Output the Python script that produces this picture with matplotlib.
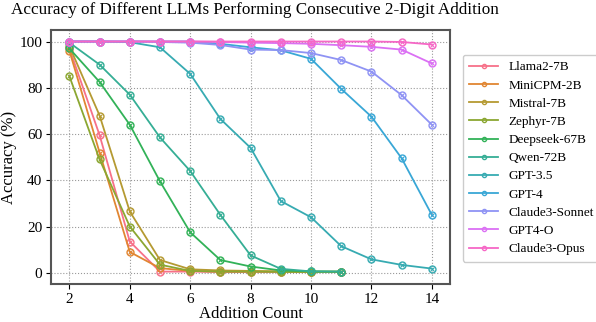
import matplotlib
matplotlib.use("Agg")
import matplotlib.pyplot as plt
import seaborn as sns

plt.rcParams['font.family'] = ['Liberation Serif', 'DejaVu Serif']

steps_short = [2, 3, 4, 5, 6, 7, 8, 9, 10, 11]
steps_long = [2, 3, 4, 5, 6, 7, 8, 9, 10, 11, 12, 13, 14]

llama2_7b = [97, 59.5, 13.5, 0.5, 0.5, 0.3, 0.3, 0.3, 0.3, 0.3]
minicpm_2b = [96, 52, 9, 2, 0.8, 0.5, 0.5, 0.5, 0.3, 0.3]
mistral_7b = [98, 68, 26.5, 5.5, 1.5, 1, 0.8, 0.6, 0.5, 0.5]
zephyr_7b = [85, 49, 20, 3.5, 0.8, 0.5, 0.5, 0.4, 0.3, 0.3]
deepseek_67b = [97, 82.5, 64, 39.5, 17.5, 5.5, 2.7, 1, 0.6, 0.5]
qwen_72b = [99.5, 90, 77, 58.5, 44, 25, 7.5, 1.7, 0.6, 0.5]
gpt35 = [100, 100, 99.7, 97.5, 86, 66.5, 54, 31, 24, 11.5, 5.8, 3.4, 1.8]
gpt4 = [100, 100, 100, 100, 100, 99, 97.5, 96.2, 92.5, 79.5, 67.5, 49.5, 25]
claude3_sonnet = [100, 100, 100, 99.8, 99.5, 98.5, 96.5, 96.3, 95, 92, 87, 76.8, 64]
gpt4o = [100, 100, 100, 100, 100, 99.8, 99.5, 99.3, 99, 98.4, 97.7, 96.5, 90.5]
claude3_opus = [100, 100, 100, 100, 100, 100, 100, 100, 100, 100, 100, 99.8, 98.7]

names = ["Llama2-7B", "MiniCPM-2B", "Mistral-7B", "Zephyr-7B", "Deepseek-67B",
         "Qwen-72B", "GPT-3.5", "GPT-4", "Claude3-Sonnet", "GPT4-O", "Claude3-Opus"]
series = [llama2_7b, minicpm_2b, mistral_7b, zephyr_7b, deepseek_67b, qwen_72b,
          gpt35, gpt4, claude3_sonnet, gpt4o, claude3_opus]

colors = sns.color_palette("husl", len(names))

fig = plt.figure(figsize=(5.96, 3.22), dpi=100)
ax = fig.add_axes([0.086, 0.117, 0.669, 0.790])

for name, vals, c in zip(names, series, colors):
    xs = steps_short if len(vals) == len(steps_short) else steps_long
    ax.plot(xs, vals, color=c, lw=1.3, marker='o', markersize=5,
            markerfacecolor='none', markeredgewidth=1.0, label=name)
    ax.plot(xs, vals, color=c, lw=0, marker='x', markersize=3.2,
            markeredgewidth=0.8)

ax.set_xlim(1.4, 14.6)
ax.set_ylim(-5, 105)
ax.set_xticks([2, 4, 6, 8, 10, 12, 14])
ax.set_yticks([0, 20, 40, 60, 80, 100])
ax.grid(True, linestyle=':', color='#999999', lw=0.8)
ax.tick_params(labelsize=11, length=3.5, pad=3)
for s in ax.spines.values():
    s.set_color('#555555')
    s.set_linewidth(1.5)

fig.text(11 / 596, 1 - 14 / 322,
         "Accuracy of Different LLMs Performing Consecutive 2-Digit Addition",
         fontsize=12.3, ha='left', va='baseline')
ax.set_xlabel("Addition Count", fontsize=12, labelpad=0)
ax.set_ylabel("Accuracy (%)", fontsize=12, labelpad=2)

fig.legend(*ax.get_legend_handles_labels(), loc='upper left',
           bbox_to_anchor=(456 / 596, 1 - 48 / 322), fontsize=9.5,
           markerscale=0.6, handlelength=2.2, handletextpad=0.8,
           labelspacing=0.45, framealpha=1, borderpad=0.5)

fig.savefig("out.png", dpi=100)
